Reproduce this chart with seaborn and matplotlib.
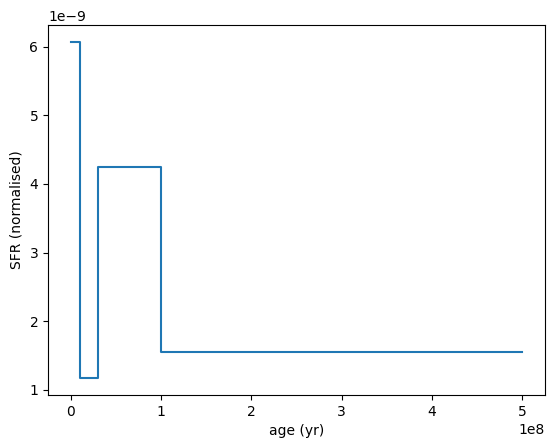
import matplotlib
matplotlib.use('Agg')
import matplotlib.pyplot as plt
import seaborn as sns
import pandas as pd

# step boundaries of the star formation history
age = [0, 1e7, 3e7, 1e8, 5e8]
sfr = [6.07e-9, 1.17e-9, 4.25e-9, 1.55e-9, 1.55e-9]

df = pd.DataFrame({'age': age, 'sfr': sfr})

fig, ax = plt.subplots(figsize=(5.54, 4.48), dpi=100)
sns.lineplot(data=df, x='age', y='sfr', drawstyle='steps-post', ax=ax, color='#1f77b4')
ax.set_xlabel('age (yr)')
ax.set_ylabel('SFR (normalised)')
fig.subplots_adjust(left=48/554, right=545/554, top=1-25/448, bottom=1-395/448)
fig.savefig('out.png')
